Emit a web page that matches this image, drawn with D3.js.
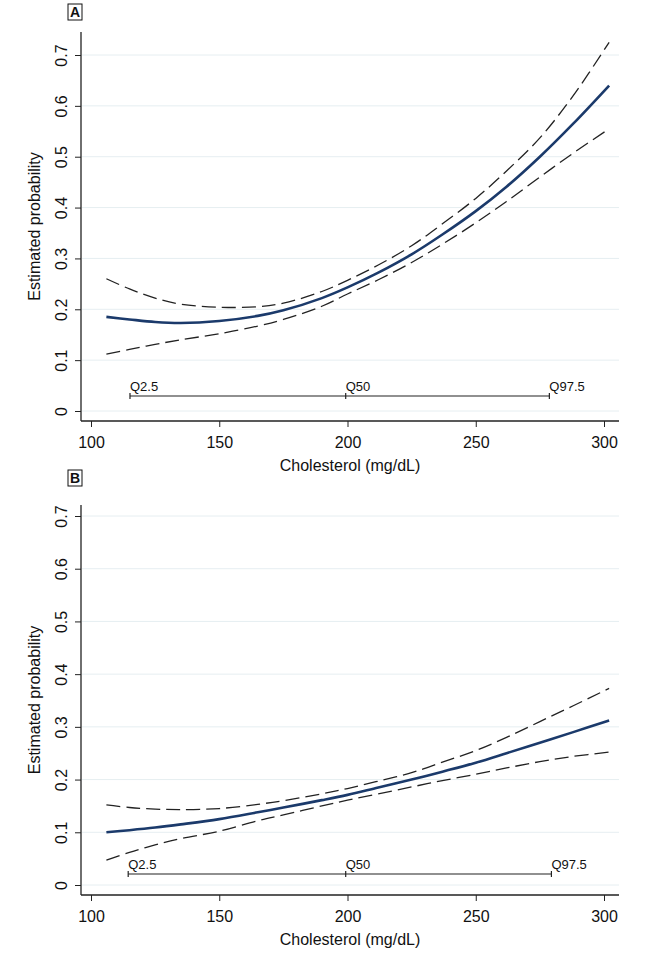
<!DOCTYPE html>
<html><head><meta charset="utf-8">
<script src="https://cdn.jsdelivr.net/npm/d3@7"></script>
<style>body{margin:0;background:#fff}svg{display:block}text{font-family:"Liberation Sans",Arial,sans-serif;fill:#111}</style>
</head><body>
<script>
const xTicks = [100,150,200,250,300];
const yTicks = [0,0.1,0.2,0.3,0.4,0.5,0.6,0.7];
const quantileLabels = ["Q2.5","Q50","Q97.5"];
const chol = [106,115,125,135,150,165,175,190,200,212,225,237,250,262,275,288,302];
// Panel A
const quantA = [115.2,199.3,278.7];
const meanA  = [0.185,0.180,0.175,0.173,0.177,0.187,0.198,0.222,0.243,0.272,0.308,0.347,0.393,0.441,0.500,0.565,0.640];
const upperA = [0.260,0.240,0.222,0.210,0.204,0.205,0.212,0.235,0.257,0.287,0.325,0.368,0.418,0.472,0.537,0.620,0.725];
const lowerA = [0.112,0.121,0.131,0.140,0.152,0.167,0.180,0.206,0.230,0.258,0.292,0.328,0.370,0.412,0.460,0.507,0.555];
// Panel B
const quantB = [114.5,199.3,279.5];
const meanB  = [0.100,0.104,0.109,0.115,0.125,0.138,0.147,0.161,0.171,0.185,0.200,0.215,0.232,0.250,0.270,0.290,0.312];
const upperB = [0.152,0.147,0.144,0.143,0.145,0.153,0.160,0.173,0.183,0.197,0.213,0.233,0.255,0.280,0.310,0.340,0.373];
const lowerB = [0.047,0.062,0.076,0.088,0.102,0.122,0.133,0.150,0.161,0.173,0.186,0.198,0.210,0.222,0.234,0.244,0.252];

const W=651,H=976;
const svg=d3.select("body").append("svg").attr("width",W).attr("height",H);

function panel(cfg){
  const g=svg.append("g");
  const x=d3.scaleLinear().domain([100,300]).range([91,604]);
  const y=d3.scaleLinear().domain([0,0.7]).range([cfg.y0,cfg.y7]);
  const axL=81, axR=619;
  // gridlines
  g.selectAll(".grid").data(yTicks).join("line")
    .attr("x1",axL+1).attr("x2",axR).attr("y1",d=>y(d)).attr("y2",d=>y(d))
    .attr("stroke","#e6eef1").attr("stroke-width",1);
  // y axis
  const ya=g.append("g").attr("transform",`translate(${axL},0)`)
    .call(d3.axisLeft(y).tickValues(yTicks).tickFormat(d=>d===0?"0":d3.format(".1f")(d)).tickSize(6).tickSizeOuter(0));
  ya.select(".domain").remove();
  ya.selectAll(".tick line").attr("stroke","#222");
  ya.selectAll(".tick text").attr("transform","rotate(-90)").attr("x",0).attr("y",-14)
    .attr("text-anchor","middle").attr("dy","0").style("font-size","16px").attr("fill","#111");
  g.append("line").attr("x1",axL).attr("x2",axL).attr("y1",cfg.top).attr("y2",cfg.base).attr("stroke","#222").attr("stroke-width",1.3);
  // x axis
  const xa=g.append("g").attr("transform",`translate(0,${cfg.base})`)
    .call(d3.axisBottom(x).tickValues(xTicks).tickSize(6).tickSizeOuter(0));
  xa.select(".domain").remove();
  xa.selectAll(".tick line").attr("stroke","#222");
  xa.selectAll(".tick text").style("font-size","16px").attr("y",16).attr("fill","#111");
  g.append("line").attr("x1",axL).attr("x2",axR).attr("y1",cfg.base).attr("y2",cfg.base).attr("stroke","#222").attr("stroke-width",1.3);
  // titles
  g.append("text").attr("x",(axL+axR)/2).attr("y",cfg.base+50).attr("text-anchor","middle").style("font-size","16px").text("Cholesterol (mg/dL)");
  g.append("text").attr("transform",`translate(40,${(cfg.top+cfg.base)/2}) rotate(-90)`).attr("text-anchor","middle").style("font-size","16px").text("Estimated probability");
  // panel label
  const lb=g.append("g");
  lb.append("rect").attr("x",68).attr("y",cfg.lblY).attr("width",14).attr("height",16).attr("fill","#fff").attr("stroke","#111").attr("stroke-width",1);
  lb.append("text").attr("x",75).attr("y",cfg.lblY+13).attr("text-anchor","middle").style("font-size","14px").style("font-weight","bold").text(cfg.label);
  // quantile bar
  const qy=cfg.qy;
  g.append("line").attr("x1",x(cfg.quant[0])).attr("x2",x(cfg.quant[2])).attr("y1",qy).attr("y2",qy).attr("stroke","#222").attr("stroke-width",1.2);
  cfg.quant.forEach((q,i)=>{
    g.append("line").attr("x1",x(q)).attr("x2",x(q)).attr("y1",qy-3).attr("y2",qy+3).attr("stroke","#222").attr("stroke-width",1.2);
    g.append("text").attr("x",x(q)).attr("y",qy-5).style("font-size","13px").text(quantileLabels[i]);
  });
  // curves
  const line=v=>d3.line().x((d,i)=>x(chol[i])).y(d=>y(d)).curve(d3.curveCatmullRom)(v);
  g.append("path").attr("d",line(cfg.upper)).attr("fill","none").attr("stroke","#222").attr("stroke-width",1.3).attr("stroke-dasharray","14,6");
  g.append("path").attr("d",line(cfg.lower)).attr("fill","none").attr("stroke","#222").attr("stroke-width",1.3).attr("stroke-dasharray","14,6");
  g.append("path").attr("d",line(cfg.mean)).attr("fill","none").attr("stroke","#1b3a6b").attr("stroke-width",2.6);
}
panel({label:"A",top:32,base:421,y0:411,y7:55,lblY:4,qy:396,quant:quantA,mean:meanA,upper:upperA,lower:lowerA});
panel({label:"B",top:505,base:895,y0:885,y7:516,lblY:470,qy:874,quant:quantB,mean:meanB,upper:upperB,lower:lowerB});
</script>
</body></html>
